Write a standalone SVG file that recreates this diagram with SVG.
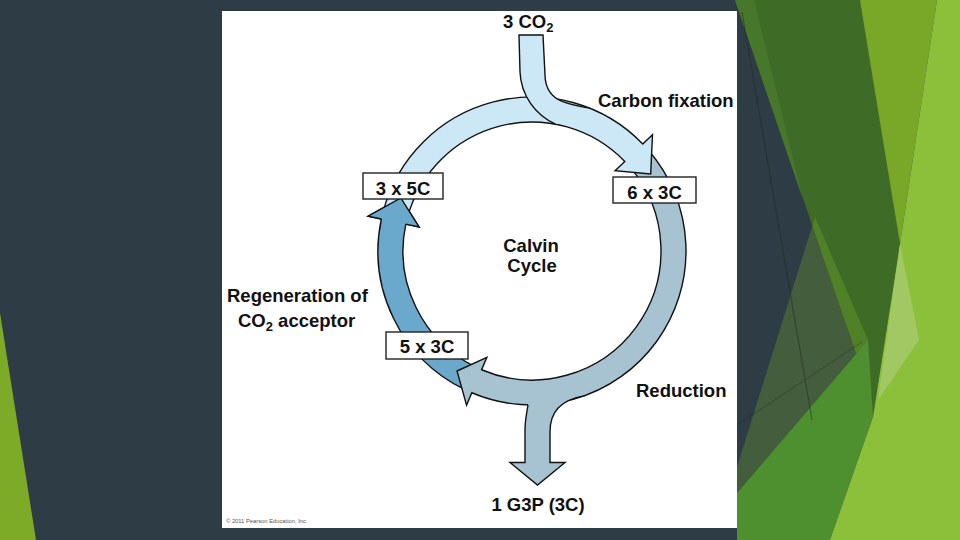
<svg xmlns="http://www.w3.org/2000/svg" width="960" height="540" viewBox="0 0 960 540">
<style>
.lbl{font-family:"Liberation Sans",Arial,Helvetica,sans-serif;font-weight:bold;font-size:18.5px;fill:#111}
.sub{font-size:13px}
.mid{text-anchor:middle}
.box{fill:#fff;stroke:#222;stroke-width:1.4}
.edge{stroke:#111;stroke-width:1.4;stroke-linejoin:miter}
.light{fill:#cce8f7}
.gray{fill:#a7c3d2}
.medium{fill:#6ba9cc}
.copy{font-family:"Liberation Sans",Arial,sans-serif;font-size:5.8px;fill:#555}
</style>
<g id="background">
<rect x="0" y="0" width="960" height="540" fill="#2d3c45"/>
<polygon points="735,0 862,0 900,244 873,417 855,350" fill="#3e6c27"/>
<polygon points="735,0 754,0 803,200" fill="#4a7b2d" opacity="0.8"/>
<polygon points="815,217 868,340 737,493 737,467" fill="#8cbe28" opacity="0.25"/>
<polygon points="737,493 868,340 873,417 830,540 737,540" fill="#4e8f2f"/>
<polygon points="860,0 937,0 900,244" fill="#79a829"/>
<polygon points="937,0 960,0 960,540 830,540 873,417 900,244" fill="#8dc03a"/>
<polygon points="900,244 919,340 878,400" fill="#a2c864"/>
<line x1="742" y1="12" x2="812" y2="420" stroke="#1f2b25" stroke-width="0.8" opacity="0.7"/>
<line x1="737" y1="425" x2="862" y2="342" stroke="#1f2b25" stroke-width="0.8" opacity="0.5"/>
<polygon points="0,313 36,540 0,540" fill="#7dab27"/>
<rect x="222" y="11" width="515" height="517" fill="#ffffff"/>
</g>
<g id="connectors">
<path id="regeneration-arrow" class="medium edge" d="M464.49,389.41 A154,154 0 0 1 381.36,218.98 L368.16,216.18 L400.80,197.99 L419.02,226.99 L405.82,224.18 A129,129 0 0 0 475.45,366.94 Z"/>
<path id="reduction-arrow" class="gray edge" d="M648.23,149.97 A154,154 0 0 1 471.83,392.76 L466.55,405.18 L457.02,371.00 L486.87,357.32 L481.60,369.74 A129,129 0 0 0 629.36,166.37 Z"/>
<path id="fixation-arrow" class="light edge" d="M383.25,211.14 A154,154 0 0 1 642.78,144.02 L652.49,134.64 L650.67,173.93 L615.08,170.77 L624.79,161.39 A129,129 0 0 0 407.40,217.61 Z"/>
<g id="co2-input">
<path class="light" d="M519,35 L543,35 L545,75 C545.5,102 568,104 590,108.3 L570,119 L556,124.3 C535,115 521,95 520,72 Z"/>
<path class="edge" fill="none" d="M556,124.3 C535,115 521,95 520,72 L519,35 L543,35 L545,75 C545.5,102 568,104 590,108.3"/>
</g>
<g id="g3p-output">
<path class="gray" d="M528,405 C527,412 525,420 525,430 L525,462.5 L510,462.5 L537.5,485 L565,462.5 L550,462.5 L550,432 C550,412 560,400 585,395.6 L560,392 L528,397 Z"/>
<path class="edge" fill="none" d="M528,405 C527,412 525,420 525,430 L525,462.5 L510,462.5 L537.5,485 L565,462.5 L550,462.5 L550,432 C550,412 560,400 585,395.6"/>
</g>
<path id="regeneration-head" class="medium edge" d="M381.36,218.98 L368.16,216.18 L400.80,197.99 L419.02,226.99 L405.82,224.18"/>
</g>
<g id="labels">
<text class="lbl" x="503" y="28">3 CO<tspan class="sub" dy="4">2</tspan></text>
<text class="lbl" x="598" y="107">Carbon fixation</text>
<text class="lbl mid" x="531" y="252">Calvin</text>
<text class="lbl mid" x="532" y="272">Cycle</text>
<text class="lbl" x="227" y="302">Regeneration of</text>
<text class="lbl" x="238" y="327">CO<tspan class="sub" dy="4">2</tspan><tspan dy="-4"> acceptor</tspan></text>
<text class="lbl" x="636" y="397">Reduction</text>
<text class="lbl mid" x="538" y="511">1 G3P (3C)</text>
<text class="copy" x="226" y="523">© 2011 Pearson Education, Inc.</text>
</g>
<g id="node-3x5C">
<rect class="box" x="363" y="173" width="80" height="26"/>
<text class="lbl mid" x="403" y="195">3 x 5C</text>
</g>
<g id="node-6x3C">
<rect class="box" x="613" y="177" width="83" height="26"/>
<text class="lbl mid" x="654.5" y="198.5">6 x 3C</text>
</g>
<g id="node-5x3C">
<rect class="box" x="386" y="332" width="82" height="27"/>
<text class="lbl mid" x="427" y="353">5 x 3C</text>
</g>
</svg>
